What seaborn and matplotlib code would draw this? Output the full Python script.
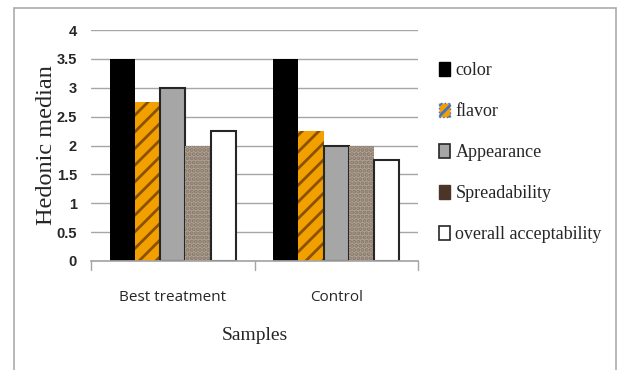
import matplotlib
matplotlib.use("Agg")
import matplotlib.pyplot as plt
import seaborn as sns
import pandas as pd
from matplotlib.patches import Patch, Rectangle

samples = ["Best treatment", "Control"]
attributes = ["color", "flavor", "Appearance", "Spreadability", "overall acceptability"]
color_vals = [3.5, 3.5]
flavor_vals = [2.75, 2.25]
appearance_vals = [3.0, 2.0]
spread_vals = [2.0, 2.0]
overall_vals = [2.25, 1.75]
yticks = [0, 0.5, 1, 1.5, 2, 2.5, 3, 3.5, 4]
ytick_labels = ["0", "0.5", "1", "1.5", "2", "2.5", "3", "3.5", "4"]

series = [color_vals, flavor_vals, appearance_vals, spread_vals, overall_vals]
rows = []
for attr, vals in zip(attributes, series):
    for s, v in zip(samples, vals):
        rows.append({"Samples": s, "attribute": attr, "value": v})
df = pd.DataFrame(rows)

sns.set_theme(style="white")
plt.rcParams["hatch.linewidth"] = 2.0

fig = plt.figure(figsize=(6.2, 3.7), dpi=100)
fig.patch.set_facecolor("white")
# outer chart border
fig.add_artist(Rectangle((14 / 620, -0.05), (616 - 14) / 620, 1.05 - 8 / 370,
                         transform=fig.transFigure, fill=False,
                         edgecolor="#ababab", linewidth=1.2))

ax = fig.add_axes([91 / 620, 1 - 261 / 370, (418 - 91) / 620, (261 - 30) / 370])

face = {"color": "#000000", "flavor": "#f2a000", "Appearance": "#a6a6a6",
        "Spreadability": "#b0a294", "overall acceptability": "#ffffff"}
sns.barplot(data=df, x="Samples", y="value", hue="attribute", order=samples,
            hue_order=attributes, palette=face, width=0.77, ax=ax,
            saturation=1, legend=False, errorbar=None)

bars = [p for p in ax.patches if isinstance(p, Rectangle)]
for i, attr in enumerate(attributes):
    for j in range(len(samples)):
        b = bars[i * len(samples) + j]
        if attr == "color":
            b.set_linewidth(0)
        elif attr == "flavor":
            b.set_hatch("//")
            b.set_edgecolor("#8a5200")
            b.set_linewidth(0)
        elif attr == "Spreadability":
            b.set_hatch("....")
            b.set_edgecolor("#857668")
            b.set_linewidth(0)
        else:
            b.set_edgecolor("#262626")
            b.set_linewidth(1.5)

ax.set_ylim(0, 4)
ax.set_xlim(-0.5, 1.5)
ax.set_yticks(yticks)
ax.set_yticklabels(ytick_labels, fontsize=10.5, fontweight="bold",
                   family=["Liberation Sans Narrow", "Liberation Sans"])
ax.yaxis.grid(True, color="#a6a6a6", linewidth=1.0)
ax.set_axisbelow(True)
for s in ["top", "right", "left"]:
    ax.spines[s].set_visible(False)
ax.spines["bottom"].set_color("#a6a6a6")
ax.tick_params(axis="y", length=0, pad=10)
ax.set_xticks([0, 1])
ax.set_xticklabels(samples, fontsize=11, family=["Open Sans", "DejaVu Sans"])
ax.tick_params(axis="x", length=0, pad=21)
for xv in [-0.5, 0.5, 1.5]:
    ax.plot([xv, xv], [0, -0.15], color="#a6a6a6", linewidth=1.0,
            clip_on=False, transform=ax.transData)
ax.set_xlabel("Samples", fontsize=14, family="Liberation Serif", labelpad=16)
ax.set_ylabel("Hedonic median", fontsize=17.5, family="Liberation Serif", labelpad=4)
ax.yaxis.set_label_coords(-0.105, 0.5)

legend_handles = [
    Patch(facecolor="#000000", edgecolor="#000000"),
    Patch(facecolor="#f2a000", edgecolor="#4472c4", hatch="///", linestyle=":"),
    Patch(facecolor="#a6a6a6", edgecolor="#262626", linewidth=1.2),
    Patch(facecolor="#4a3526", edgecolor="#4a3526"),
    Patch(facecolor="#ffffff", edgecolor="#262626", linewidth=1.2),
]
fig.legend(legend_handles, attributes, loc="upper left",
           bbox_to_anchor=(432 / 620, 1 - 55 / 370), frameon=False,
           prop={"family": "Liberation Serif", "size": 13},
           handlelength=0.6, handleheight=0.75, handletextpad=0.3,
           labelspacing=1.33, borderaxespad=0)

fig.savefig("out.png", dpi=100, facecolor="white")
